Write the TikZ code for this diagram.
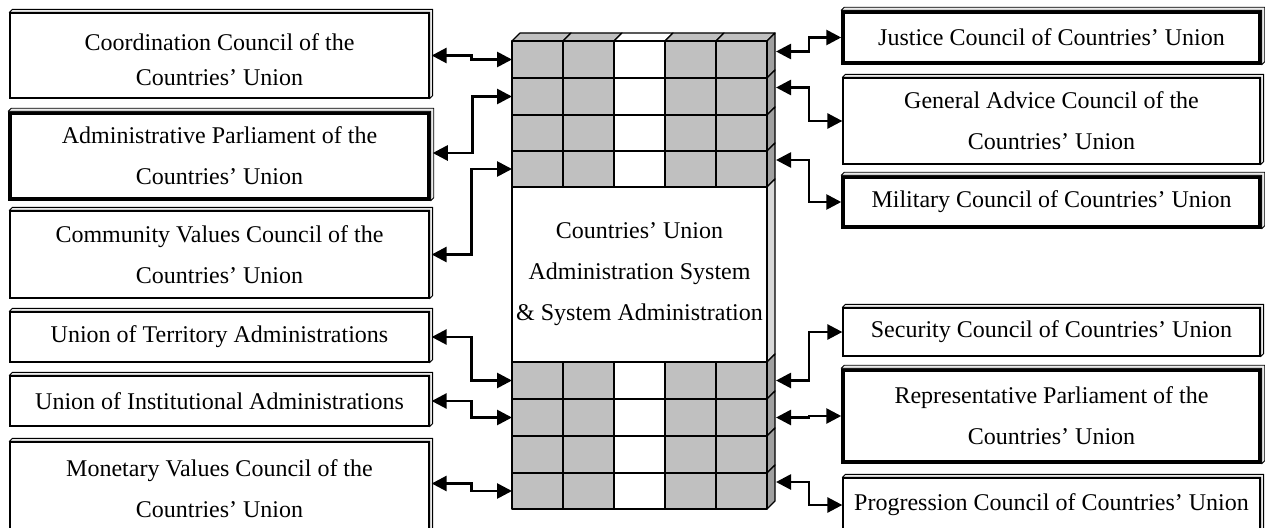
\documentclass[tikz,border=0pt]{standalone}
\usepackage{fontspec}
\setmainfont{Liberation Serif}
\usetikzlibrary{arrows.meta,calc}
\definecolor{cellgray}{RGB}{192,192,192}
\definecolor{sidedark}{RGB}{160,160,160}
\definecolor{sidelight}{RGB}{216,216,216}
\definecolor{bevelgray}{RGB}{235,235,235}
\tikzset{
  box/.style={draw, line width=1.3pt, fill=white, align=center, inner sep=0pt,
    minimum width=419, font=\fontsize{24}{41}\selectfont},
  rbox/.style={box, minimum width=417},
  heavy/.style={line width=3.5pt},
  bevel/.style={fill=bevelgray, draw, line width=0.9pt, line join=round},
  rowbox/.style={minimum width=255, minimum height=36.5, inner sep=0pt, outer sep=0pt},
  conn/.style={line width=2.7pt, {Triangle[length=15pt,width=15pt]}-{Triangle[length=15pt,width=15pt]}},
  cellline/.style={line width=1.2pt, line join=round}
}
\begin{document}
\begin{tikzpicture}[x=1pt,y=-1pt]
\clip (0,0) rectangle (1265,527);
\fill[white] (0,0) rectangle (1265,527);

% ---------- left boxes ----------
\node[box, minimum height=85, font=\fontsize{24}{35}\selectfont] (coord) at (219.5,55.5) {\rule{0pt}{25pt}Coordination Council of the\\Countries’ Union};
\node[box, heavy, minimum height=86] (admin) at (219.5,156) {Administrative Parliament of the\\Countries’ Union};
\node[box, minimum height=87] (comm) at (219.5,254.5) {Community Values Council of the\\Countries’ Union};
\node[box, minimum height=50] (terr) at (219.5,337) {Union of Territory Administrations};
\node[box, minimum height=50] (inst) at (219.5,401) {Union of Institutional Administrations};
\node[box, minimum height=93] (mon) at (219.5,488.5) {Monetary Values Council of the\\Countries’ Union};

% ---------- right boxes ----------
\node[rbox, heavy, minimum height=51] (just) at (1051.5,37.5) {Justice Council of Countries’ Union};
\node[rbox, minimum height=86] (gen) at (1051.5,121) {General Advice Council of the\\Countries’ Union};
\node[rbox, heavy, minimum height=50] (mil) at (1051.5,202) {Military Council of Countries’ Union};
\node[rbox, minimum height=48] (sec) at (1051.5,332) {Security Council of Countries’ Union};
\node[rbox, heavy, minimum height=92] (rep) at (1051.5,416) {Representative Parliament of the\\Countries’ Union};
\node[rbox, minimum height=54] (prog) at (1051.5,505) {Progression Council of Countries’ Union};

% bevels
\foreach \n in {coord,admin,comm,terr,inst,mon,just,gen,mil,sec,rep,prog}{
  \filldraw[bevel] (\n.north west) -- ([shift={(3,-3)}]\n.north west)
    -- ([shift={(3,-3)}]\n.north east) -- ([shift={(3,-3)}]\n.south east)
    -- (\n.south east) -- (\n.north east) -- cycle;
}

% ---------- central column ----------
% top face
\foreach \xa/\xb/\c in {512/563/cellgray,563/614/cellgray,614/665/white,665/716/cellgray,716/767/cellgray}{
  \filldraw[cellline, fill=\c] (\xa,41) -- (\xa+8,33) -- (\xb+8,33) -- (\xb,41) -- cycle;
}
% right face
\foreach \ya/\yb/\c in {41/78/sidedark,78/115/sidedark,115/151/sidedark,151/187/sidedark,187/362/sidelight,362/399/sidedark,399/436/sidedark,436/473/sidedark,473/509/sidedark}{
  \filldraw[cellline, fill=\c] (767,\ya) -- (775,\ya-8) -- (775,\yb-8) -- (767,\yb) -- cycle;
}
% cells
\foreach \ya/\yb in {41/78,78/115,115/151,151/187,362/399,399/436,436/473,473/509}{
  \foreach \xa/\xb/\c in {512/563/cellgray,563/614/cellgray,614/665/white,665/716/cellgray,716/767/cellgray}{
    \filldraw[cellline, fill=\c] (\xa,\ya) rectangle (\xb,\yb);
  }
}
% middle text block
\node[draw, line width=1.2pt, fill=white, minimum width=255, minimum height=175, inner sep=0pt,
  align=center, font=\fontsize{24}{41}\selectfont] (sys) at (639.5,274.5)
  {Countries’ Union\\Administration System\\\& System Administration};

% row anchors
\node[rowbox] (t1) at (639.5,59.5) {};
\node[rowbox] (t2) at (639.5,96.5) {};
\node[rowbox] (t4) at (639.5,169) {};
\node[rowbox] (b1) at (639.5,380.5) {};
\node[rowbox] (b2) at (639.5,417.5) {};
\node[rowbox] (b4) at (639.5,491) {};

% ---------- connectors ----------
\draw[conn] ([xshift=2pt]coord.east) -- ++(40,0) |- (t1.west);
\draw[conn] ([xshift=2pt,yshift=3pt]admin.east) -- ++(40,0) |- (t2.west);
\draw[conn] ([xshift=2pt]comm.east) -- ++(40,0) |- (t4.west);
\draw[conn] ([xshift=2pt]terr.east) -- ++(40,0) |- (b1.west);
\draw[conn] ([xshift=2pt]inst.east) -- ++(40,0) |- (b2.west);
\draw[conn] ([xshift=2pt,yshift=5pt]mon.east) -- ++(40,0) |- (b4.west);

\draw[conn] ([xshift=9pt,yshift=8pt]t1.east) -- ++(33,0) |- (just.west);
\draw[conn] ([xshift=9pt,yshift=9pt]t2.east) -- ++(33,0) |- (gen.west);
\draw[conn] ([xshift=9pt,yshift=9pt]t4.east) -- ++(33,0) |- (mil.west);
\draw[conn] ([xshift=9pt]b1.east) -- ++(33,0) |- (sec.west);
\draw[conn] ([xshift=9pt]b2.east) -- ++(33,0) |- (rep.west);
\draw[conn] ([xshift=9pt,yshift=9pt]b4.east) -- ++(33,0) |- (prog.west);
\end{tikzpicture}
\end{document}
